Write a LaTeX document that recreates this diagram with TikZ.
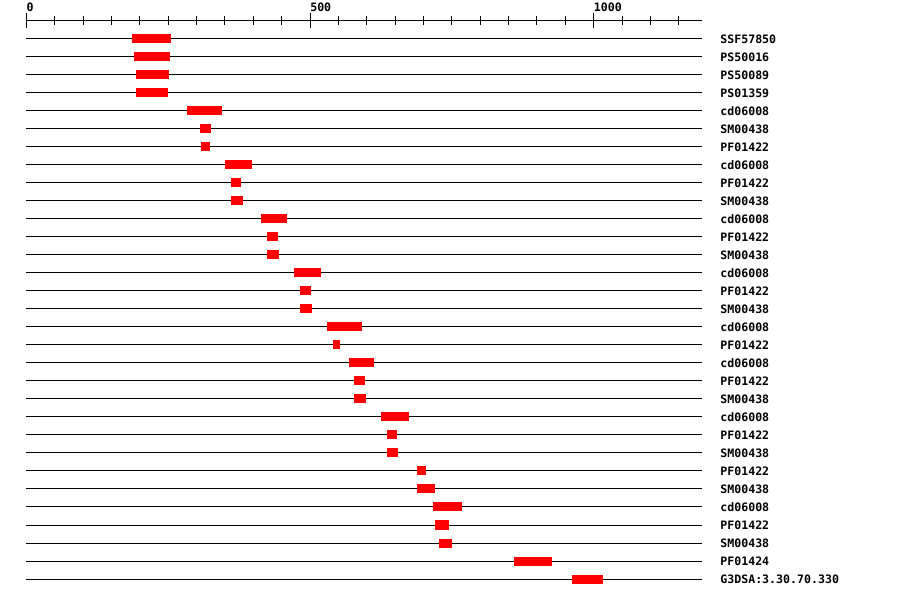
\documentclass[tikz,border=0pt]{standalone}
\usepackage{fontspec}
\newfontfamily\hitfont{DejaVu Sans Mono}
\definecolor{hitred}{RGB}{255,0,0}

\begin{document}
\begin{tikzpicture}[
  x=0.75pt, y=-0.75pt,
  track/.style={line width=0.75pt},
  hit/.style={fill=hitred},
  lbl/.style={font=\hitfont\bfseries\fontsize{8.7}{10}\selectfont,
              inner sep=0pt, anchor=base west}
]
  \useasboundingbox (0,0) rectangle (900,598);
  % residue scale: 0 at 26.3px, 0.5674px per residue
  \begin{scope}[xshift=19.725pt, x=0.42555pt]
    \draw[track] (0,21) -- (1191,21);
    \foreach \t in {0,50,...,1150}
      \draw[track] (\t,16) -- (\t,25);
    \foreach \t in {0,500,1000} {
      \draw[track] (\t,13) -- (\t,28);
      \node[lbl] (tick\t) at (\t,12) {\t};
    }

    \foreach [count=\i] \name/\from/\to in {
        SSF57850/186/255, PS50016/190/253, PS50089/193/251, PS01359/193/250,
        cd06008/283/345, SM00438/306/325, PF01422/308/324,
        cd06008/350/398, PF01422/361/378, SM00438/361/382,
        cd06008/414/459, PF01422/424/444, SM00438/424/445,
        cd06008/472/519, PF01422/482/502, SM00438/482/504,
        cd06008/530/592, PF01422/541/553,
        cd06008/569/613, PF01422/578/597, SM00438/578/599,
        cd06008/625/675, PF01422/636/653, SM00438/636/655,
        PF01422/689/704, SM00438/689/720,
        cd06008/717/768, PF01422/720/745, SM00438/727/750,
        PF01424/860/927, G3DSA:3.30.70.330/962/1016} {
      \pgfmathsetmacro\ry{21+18*\i}
      \draw[track] (0,\ry) -- (1191,\ry);
      \fill[hit] (\from,\ry-4.5) rectangle (\to,\ry+4.5);
      \node[lbl, xshift=13.5pt] (row\i) at (1191,\ry+4.5) {\name};
    }
  \end{scope}
\end{tikzpicture}
\end{document}
